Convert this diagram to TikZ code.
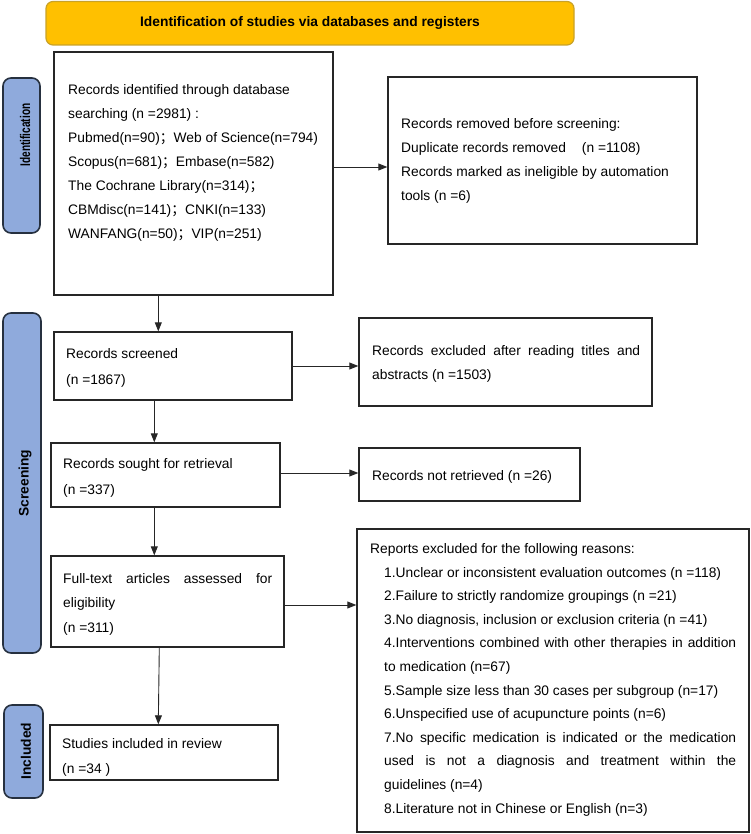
\documentclass[tikz,border=0pt]{standalone}
\usepackage{fontspec}
\setmainfont{Liberation Sans}
\newfontfamily\cjkfont{Noto Sans CJK SC}
\usepackage{graphicx}
\usetikzlibrary{arrows.meta,calc}
\definecolor{hdrfill}{HTML}{FFC000}
\definecolor{hdrdraw}{HTML}{C9A227}
\definecolor{lblfill}{HTML}{8FAADC}
\definecolor{lbldraw}{HTML}{26303F}
\definecolor{boxdraw}{HTML}{262626}
\newcommand\semi{{\cjkfont ；}}
\newcommand\bodyfont{\fontsize{13.8pt}{24pt}\selectfont}
\newcommand\jline[2]{\makebox[#1][s]{#2}}
\newcommand\mkbox[6][box]{\node[#1,minimum width={(#5)-(#3)},minimum height={(#6)-(#4)}] (#2) at ({((#3)+(#5))/2},{((#4)+(#6))/2}) {};}
\begin{document}
\begin{tikzpicture}[x=1pt,y=-1pt,
 box/.style={draw=boxdraw,line width=1.4pt,rectangle,inner sep=0pt,fill=white},
 hdr/.style={draw=hdrdraw,fill=hdrfill,line width=1.2pt,rounded corners=7pt,rectangle,inner sep=0pt},
 lbl/.style={draw=lbldraw,fill=lblfill,line width=1.6pt,rounded corners=8pt,rectangle,inner sep=0pt},
 txt/.style={inner sep=0pt,anchor=base west,font=\bodyfont,text=black},
 lbltxt/.style={inner sep=0pt,rotate=90,font=\bfseries\fontsize{13.8pt}{16pt}\selectfont,text=black},
 arr/.style={draw=black!85,line width=0.9pt,-{Triangle[length=9pt,width=7pt]}}]
\useasboundingbox (0,0) rectangle (750,834);
% header
\mkbox[hdr]{hdr}{46}{1.5}{574}{45}
\node[inner sep=0pt,font=\bfseries\fontsize{13.8pt}{16pt}\selectfont] (hdrt) at (hdr.center) {Identification of studies via databases and registers};
% side labels
\mkbox[lbl]{lid}{3}{78}{40}{233}
\node[lbltxt,font=\bfseries\fontsize{14pt}{17pt}\selectfont] (lidt) at (25,135) {\scalebox{0.72}[1]{Identification}};
\mkbox[lbl]{lsc}{3}{313}{41}{653}
\node[lbltxt] (lsct) at (25,483) {Screening};
\mkbox[lbl]{lin}{4}{705}{43}{798}
\node[lbltxt] (lint) at (26,751) {Included};
% boxes
\mkbox{id}{54}{52}{333}{295}
\mkbox{rm}{388}{77}{697}{244}
\mkbox{scr}{54}{332}{292}{400}
\mkbox{exc}{359}{318}{652}{406}
\mkbox{sgt}{51}{443}{280}{507}
\mkbox{nr}{359}{448}{580}{501}
\mkbox{ft}{51}{556}{284}{647}
\mkbox{rep}{357}{529}{749}{832}
\mkbox{inc}{50}{725}{278}{780}
% texts
\node[txt] (idt) at (68,95) {\parbox[t]{300pt}{Records identified through database\\
searching (n =2981) :\\
Pubmed(n=90)\semi Web of Science(n=794)\\
Scopus(n=681)\semi Embase(n=582)\\
The Cochrane Library(n=314)\semi\\
CBMdisc(n=141)\semi CNKI(n=133)\\
WANFANG(n=50)\semi VIP(n=251)}};
\node[txt] (rmt) at (401,129) {\parbox[t]{300pt}{Records removed before screening:\\
Duplicate records removed\hspace{12pt} (n =1108)\\
Records marked as ineligible by automation\\
tools (n =6)}};
\node[txt] (scrt) at (66,358.5) {\parbox[t]{220pt}{\baselineskip=25.5pt Records screened\\(n =1867)}};
\node[txt] (exct) at (372,355) {\parbox[t]{280pt}{\jline{268pt}{Records excluded after reading titles and}\\abstracts (n =1503)}};
\node[txt] (sgtt) at (63,468) {\parbox[t]{220pt}{\baselineskip=26pt Records sought for retrieval\\(n =337)}};
\node[txt] (nrt) at (372,480) {Records not retrieved (n =26)};
\node[txt] (ftt) at (63,583) {\parbox[t]{220pt}{\baselineskip=24.5pt \jline{209pt}{Full-text articles assessed for}\\eligibility\\(n =311)}};
\node[txt] (rept) at (370,553) {Reports excluded for the following reasons:};
\node[txt] (repi) at (384,577) {\parbox[t]{360pt}{\baselineskip=23.6pt 1.Unclear or inconsistent evaluation outcomes (n =118)\\
2.Failure to strictly randomize groupings (n =21)\\
3.No diagnosis, inclusion or exclusion criteria (n =41)\\
\jline{352pt}{4.Interventions combined with other therapies in addition}\\
to medication (n=67)\\
5.Sample size less than 30 cases per subgroup (n=17)\\
6.Unspecified use of acupuncture points (n=6)\\
\jline{352pt}{7.No specific medication is indicated or the medication}\\
\jline{352pt}{used is not a diagnosis and treatment within the}\\
guidelines (n=4)\\
8.Literature not in Chinese or English (n=3)}};
\node[txt] (inct) at (62,748) {\parbox[t]{220pt}{\baselineskip=25pt Studies included in review\\(n =34 )}};
% connectors
\draw[arr] ([yshift=-6.5pt]rm.west -| id.east) -- ([yshift=-6.5pt]rm.west);
\draw[arr] ([xshift=105pt]id.south west) -- ([xshift=105pt]id.south west |- scr.north);
\draw[arr] (scr.east) -- (scr.east -| exc.west);
\draw[arr] ([xshift=101pt]scr.south west) -- ([xshift=101pt]scr.south west |- sgt.north);
\draw[arr] ([yshift=2pt]sgt.east) -- ([yshift=2pt]sgt.east -| nr.west);
\draw[arr] ([xshift=104pt]sgt.south west) -- ([xshift=104pt]sgt.south west |- ft.north);
\draw[arr] ([yshift=-3.5pt]ft.east) -- ([yshift=-3.5pt]ft.east -| rep.west);
\draw[arr] ([xshift=109pt]ft.south west) -- ([xshift=109pt]inc.north west);
\end{tikzpicture}
\end{document}
